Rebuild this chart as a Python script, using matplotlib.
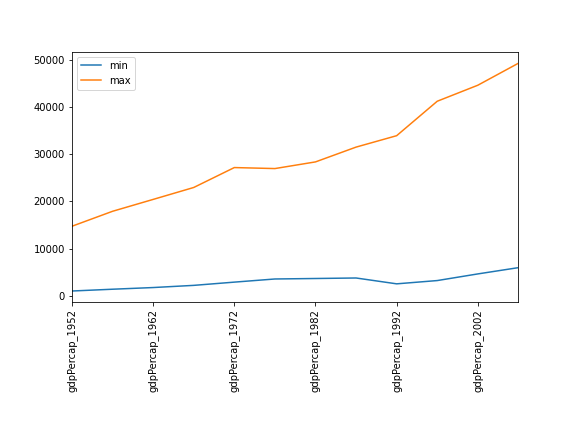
import matplotlib
matplotlib.use("Agg")
import matplotlib.pyplot as plt

labels = ["gdpPercap_1952", "gdpPercap_1957", "gdpPercap_1962", "gdpPercap_1967",
          "gdpPercap_1972", "gdpPercap_1977", "gdpPercap_1982", "gdpPercap_1987",
          "gdpPercap_1992", "gdpPercap_1997", "gdpPercap_2002", "gdpPercap_2007"]
min_vals = [973.53, 1353.99, 1709.68, 2172.35, 2860.17, 3528.48, 3630.88, 3738.93,
            2497.44, 3193.05, 4604.21, 5937.03]
max_vals = [14734.23, 17909.49, 20431.09, 22966.14, 27195.11, 26982.29, 28397.72,
            31540.97, 33965.66, 41283.16, 44683.98, 49357.19]

fig, ax = plt.subplots(figsize=(8, 6), dpi=72)
fig.subplots_adjust(left=0.125, right=0.9, top=0.88, bottom=0.30)
x = list(range(len(labels)))
ax.plot(x, min_vals, label="min")
ax.plot(x, max_vals, label="max")
ax.set_xlim(0, len(labels) - 1)
ax.set_xticks(x[::2])
ax.set_xticklabels(labels[::2], rotation=90)
ax.legend(loc="upper left")
fig.savefig("out.png", dpi=72)
